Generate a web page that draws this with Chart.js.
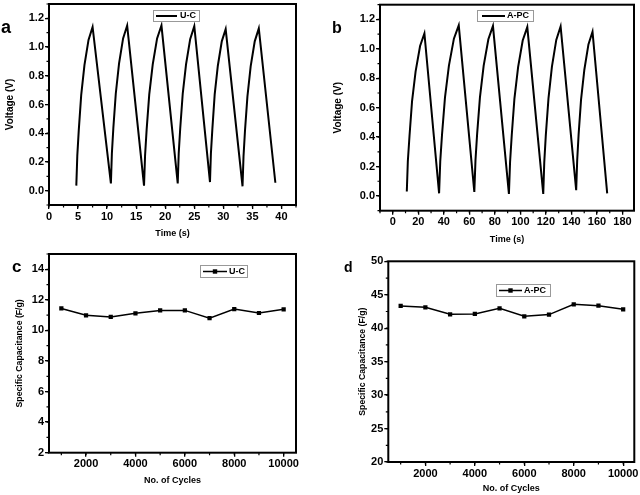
<!DOCTYPE html>
<html>
<head>
<meta charset="utf-8">
<script src="https://cdn.jsdelivr.net/npm/chart.js@4.4.1/dist/chart.umd.min.js"></script>
<style>
    body { margin: 0; width: 640px; height: 495px; overflow: hidden; background: #fff; position: relative; }
    canvas { position: absolute; }
    .tag { position: absolute; font-family: "Liberation Sans", Arial, sans-serif; font-weight: bold; color: #000; line-height: 1; }
</style>
</head>
<body>
<canvas id="chartA" width="320" height="243" style="left:0;top:0"></canvas>
<canvas id="chartB" width="320" height="249" style="left:320px;top:0"></canvas>
<canvas id="chartC" width="320" height="240" style="left:0;top:250px"></canvas>
<canvas id="chartD" width="320" height="248" style="left:320px;top:250px"></canvas>
<div class="tag" style="left:1px;top:18px;font-size:18px">a</div>
<div class="tag" style="left:332px;top:20px;font-size:16px">b</div>
<div class="tag" style="left:12px;top:258px;font-size:17px">c</div>
<div class="tag" style="left:344px;top:260px;font-size:14px">d</div>
<script>
const FONT = '"Liberation Sans", Arial, sans-serif';

// a: galvanostatic charge/discharge, U-C
const ucTime = [4.70, 4.87, 5.12, 5.54, 6.10, 6.80, 7.50,
    10.65, 10.82, 11.07, 11.49, 12.05, 12.75, 13.45,
    16.35, 16.53, 16.80, 17.25, 17.85, 18.60, 19.35,
    22.15, 22.32, 22.58, 23.01, 23.58, 24.29, 25.00,
    27.70, 27.86, 28.11, 28.51, 29.05, 29.73, 30.40,
    33.30, 33.47, 33.72, 34.14, 34.70, 35.40, 36.10,
    38.95];
const ucVolt = [0.035, 0.245, 0.42, 0.665, 0.875, 1.05, 1.14,
    0.05, 0.26, 0.435, 0.675, 0.885, 1.06, 1.15,
    0.035, 0.245, 0.425, 0.67, 0.88, 1.06, 1.15,
    0.05, 0.26, 0.435, 0.675, 0.88, 1.055, 1.145,
    0.06, 0.26, 0.43, 0.67, 0.87, 1.04, 1.125,
    0.03, 0.24, 0.415, 0.655, 0.865, 1.04, 1.13,
    0.055];

// b: galvanostatic charge/discharge, A-PC
const apcTime = [11.0, 11.8, 13.1, 15.1, 17.9, 21.4, 24.8,
    36.3, 37.2, 38.6, 40.9, 44.0, 47.9, 51.7,
    63.9, 64.8, 66.1, 68.3, 71.2, 74.9, 78.5,
    91.0, 91.9, 93.2, 95.3, 98.2, 101.8, 105.4,
    117.9, 118.7, 119.9, 122.0, 124.7, 128.1, 131.5,
    143.7, 144.5, 145.6, 147.5, 150.1, 153.3, 156.5,
    168.0];
const apcVolt = [0.03, 0.234, 0.406, 0.643, 0.847, 1.019, 1.105,
    0.018, 0.235, 0.418, 0.669, 0.886, 1.069, 1.16,
    0.027, 0.241, 0.422, 0.67, 0.884, 1.065, 1.155,
    0.014, 0.229, 0.411, 0.66, 0.876, 1.057, 1.148,
    0.014, 0.23, 0.412, 0.663, 0.879, 1.061, 1.152,
    0.04, 0.244, 0.417, 0.653, 0.858, 1.03, 1.116,
    0.018];

// c, d: cycling stability
const cycles = [1000, 2000, 3000, 4000, 5000, 6000, 7000, 8000, 9000, 10000];
const ucCap = [11.44, 10.99, 10.88, 11.12, 11.31, 11.31, 10.80, 11.40, 11.14, 11.38];
const apcCap = [43.32, 43.12, 42.08, 42.13, 42.97, 41.78, 42.03, 43.57, 43.37, 42.82];

// tick labels
const timeTicksA = [0, 5, 10, 15, 20, 25, 30, 35, 40];
const timeTicksB = [0, 20, 40, 60, 80, 100, 120, 140, 160, 180];
const voltTicks = [0, 0.2, 0.4, 0.6, 0.8, 1.0, 1.2];
const cycleTicks = [2000, 4000, 6000, 8000, 10000];
const capTicksC = [2, 4, 6, 8, 10, 12, 14];
const capTicksD = [20, 25, 30, 35, 40, 45, 50];

const pts = (xs, ys) => xs.map((x, i) => ({ x, y: ys[i] }));

function axis(min, max, ticks, title, size, titleSize, fmt) {
    return {
        type: "linear", min, max,
        afterBuildTicks: s => { s.ticks = ticks.map(v => ({ value: v })); },
        afterFit: s => {
            if (s.isHorizontal()) s.height = size; else s.width = size;
            s.paddingLeft = s.paddingRight = s.paddingTop = s.paddingBottom = 0;
        },
        grid: { display: true, drawOnChartArea: false, drawTicks: true, tickLength: 4, color: "#000", lineWidth: 1.3 },
        border: { display: false },
        ticks: { color: "#000", padding: 1, autoSkip: false, maxRotation: 0,
                 font: { family: FONT, size: 11, weight: "bold" }, callback: fmt || (v => v) },
        title: { display: true, text: title, color: "#000", padding: { top: 4, bottom: 4 },
                 font: { family: FONT, size: titleSize, weight: "bold" } }
    };
}

const framePlugin = {
    id: "frame",
    afterDraw(chart, args, o) {
        const { ctx, chartArea: a, scales: { x, y } } = chart;
        ctx.save();
        ctx.strokeStyle = "#000";
        ctx.lineWidth = 2;
        ctx.strokeRect(a.left, a.top, a.right - a.left, a.bottom - a.top);

        ctx.lineWidth = 1.2;
        ctx.beginPath();
        for (let i = Math.ceil(x.min / o.minorX - 1e-9); i * o.minorX <= x.max + 1e-9; i++) {
            const px = x.getPixelForValue(i * o.minorX);
            ctx.moveTo(px, a.bottom); ctx.lineTo(px, a.bottom + 2.5);
        }
        for (let i = Math.ceil(y.min / o.minorY - 1e-9); i * o.minorY <= y.max + 1e-9; i++) {
            const py = y.getPixelForValue(i * o.minorY);
            ctx.moveTo(a.left, py); ctx.lineTo(a.left - 2.5, py);
        }
        ctx.stroke();

        const L = o.legend;
        ctx.lineWidth = 1;
        ctx.strokeStyle = "#999";
        ctx.strokeRect(Math.round(L.x) + 0.5, Math.round(L.y) + 0.5, L.w, L.h);
        const ly = L.y + L.h / 2 + 0.5;
        ctx.strokeStyle = "#000";
        ctx.lineWidth = L.marker ? 1.5 : 2;
        ctx.beginPath();
        ctx.moveTo(L.x1, ly); ctx.lineTo(L.x2, ly);
        ctx.stroke();
        if (L.marker) {
            const mx = (L.x1 + L.x2) / 2;
            ctx.fillStyle = "#000";
            ctx.fillRect(mx - 2.2, ly - 2.2, 4.4, 4.4);
        }
        ctx.fillStyle = "#000";
        ctx.font = "bold 9px " + FONT;
        ctx.textBaseline = "middle";
        ctx.fillText(L.text, L.tx, ly);
        ctx.restore();
    }
};

function make(id, cfg) {
    return new Chart(document.getElementById(id), {
        type: "line",
        data: { datasets: [cfg.dataset] },
        options: {
            responsive: false,
            animation: false,
            layout: { padding: cfg.padding },
            plugins: { legend: { display: false }, tooltip: { enabled: false }, frame: cfg.frame },
            scales: { x: cfg.x, y: cfg.y }
        },
        plugins: [framePlugin]
    });
}

const gcdLine = data => ({ data, borderColor: "#000", borderWidth: 2, pointRadius: 0, tension: 0, fill: false });
const capLine = data => ({ data, borderColor: "#000", borderWidth: 1.5, pointRadius: 3, pointStyle: "rect",
                           pointBackgroundColor: "#000", pointBorderColor: "#000", pointBorderWidth: 0, tension: 0, fill: false });

const charts = {};

charts.a = make("chartA", {
    dataset: gcdLine(pts(ucTime, ucVolt)),
    padding: { left: 0, top: 4, right: 24, bottom: 0 },
    x: axis(0, 42.5, timeTicksA, "Time (s)", 38, 9),
    y: axis(-0.1, 1.3, voltTicks, "Voltage (V)", 49, 10, v => v.toFixed(1)),
    frame: { minorX: 2.5, minorY: 0.1,
             legend: { x: 153, y: 10, w: 46, h: 11, x1: 156, x2: 177, tx: 180, text: "U-C", marker: false } }
});

charts.b = make("chartB", {
    dataset: gcdLine(pts(apcTime, apcVolt)),
    padding: { left: 8.3, top: 4.7, right: 6, bottom: 0 },
    x: axis(-10, 189, timeTicksB, "Time (s)", 38.3, 9),
    y: axis(-0.1, 1.3, voltTicks, "Voltage (V)", 51.7, 10, v => v.toFixed(1)),
    frame: { minorX: 10, minorY: 0.1,
             legend: { x: 157, y: 10, w: 56, h: 11, x1: 162, x2: 185, tx: 187, text: "A-PC", marker: false } }
});

charts.c = make("chartC", {
    dataset: capLine(pts(cycles, ucCap)),
    padding: { left: 10.8, top: 3.3, right: 24, bottom: 0 },
    x: axis(500, 10500, cycleTicks, "No. of Cycles", 37.3, 9),
    y: axis(2, 15, capTicksC, "Specific Capacitance (F/g)", 38.2, 8.7),
    frame: { minorX: 1000, minorY: 1,
             legend: { x: 200, y: 15, w: 47, h: 12, x1: 203, x2: 227, tx: 229, text: "U-C", marker: true } }
});

charts.d = make("chartD", {
    dataset: capLine(pts(cycles, apcCap)),
    padding: { left: 33.5, top: 11.3, right: 5.7, bottom: 0 },
    x: axis(500, 10450, cycleTicks, "No. of Cycles", 36, 9),
    y: axis(20, 50, capTicksD, "Specific Capacitance (F/g)", 34.8, 8.7),
    frame: { minorX: 1000, minorY: 2.5,
             legend: { x: 176, y: 34, w: 54, h: 12, x1: 179, x2: 202, tx: 204, text: "A-PC", marker: true } }
});
</script>
</body>
</html>
